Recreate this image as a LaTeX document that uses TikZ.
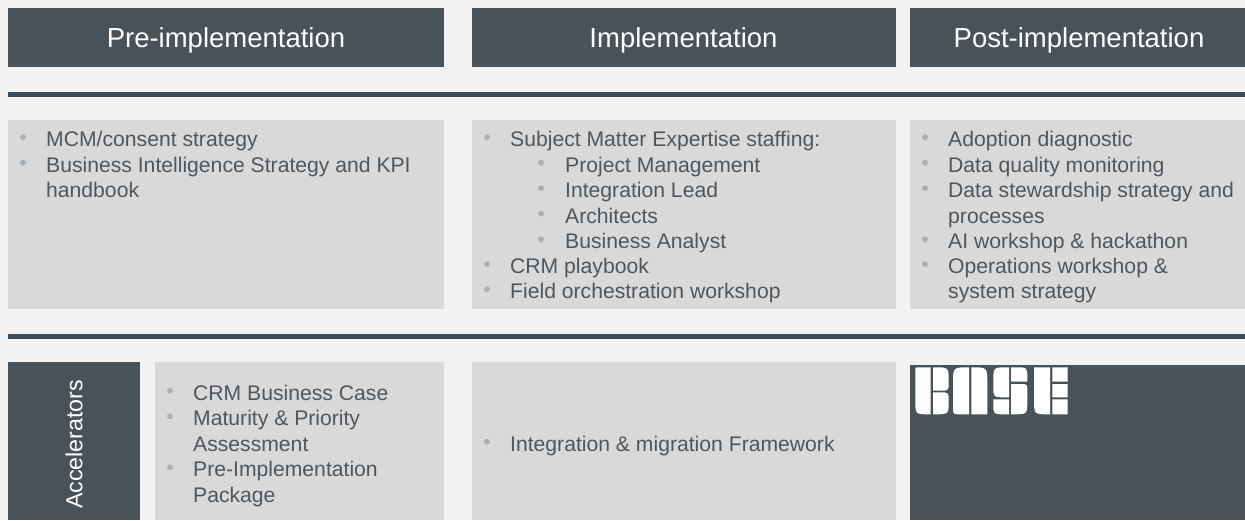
\documentclass[tikz,border=0pt]{standalone}
\usepackage{fontspec}
\setmainfont{Liberation Sans}
\definecolor{bgc}{HTML}{F2F2F2}
\definecolor{dark}{HTML}{4A5259}
\definecolor{panelc}{HTML}{D9D9D9}
\definecolor{rulec}{HTML}{3D4C57}
\definecolor{txt}{HTML}{4F575E}
\definecolor{bul}{HTML}{A5B0B8}
\tikzset{
 x=1pt,y=-1pt,
 box/.style={inner sep=0pt,outer sep=0pt,anchor=north west},
 head/.style={box,fill=dark},
 headtext/.style={text=white,inner sep=0pt,anchor=base,font=\fontsize{27.5}{32}\selectfont},
 panel/.style={box,fill=panelc},
 rulebar/.style={fill=rulec},
 itm/.style={anchor=base west,inner sep=0pt,yshift=-0.5pt,text=txt,font=\fontsize{21.15}{25}\selectfont},
}
\newcommand{\itm}[4]{\node[itm] (#1) at (#2,#3) {#4};}
\newcommand{\blt}[3]{\fill[bul] (#2,#3-8.8) circle (2.9);}
% x1 y1 x2 y2 rTL rTR rBR rBL
\newcommand{\piece}[8]{\fill[white] (#1+#5,#2) -- (#3-#6,#2) .. controls (#3,#2) .. (#3,#2+#6) -- (#3,#4-#7) .. controls (#3,#4) .. (#3-#7,#4) -- (#1+#8,#4) .. controls (#1,#4) .. (#1,#4-#8) -- (#1,#2+#5) .. controls (#1,#2) .. (#1+#5,#2) -- cycle;}
\begin{document}
\begin{tikzpicture}
\useasboundingbox (0,0) rectangle (1245,520);
\fill[bgc] (0,0) rectangle (1245,520);
% headers
\node[head,minimum width=436pt,minimum height=59pt] (h1) at (8,8) {};
\node[head,minimum width=424pt,minimum height=59pt] (h2) at (472,8) {};
\node[head,minimum width=335pt,minimum height=59pt] (h3) at (910,8) {};
\node[headtext] (h1t) at (226,47) {Pre-implementation};
\node[headtext] (h2t) at (683.5,47) {Implementation};
\node[headtext] (h3t) at (1079,47) {Post-implementation};
% rules
\fill[rulebar] (8,92.3) rectangle (1245,96.6);
\fill[rulebar] (8,333.8) rectangle (1245,338.6);
% panels
\node[panel,minimum width=436pt,minimum height=189pt] (p1) at (8,120) {};
\node[panel,minimum width=424pt,minimum height=189pt] (p2) at (472,120) {};
\node[panel,minimum width=335pt,minimum height=189pt] (p3) at (910,120) {};
\node[box,fill=dark,minimum width=132pt,minimum height=158pt] (acc) at (8,362) {};
\node[text=white,font=\fontsize{23.2}{28}\selectfont,rotate=90,inner sep=0pt] (acclabel) at (74,444.5) {Accelerators};
\node[panel,minimum width=289.5pt,minimum height=158pt] (p4) at (154.5,362) {};
\node[panel,minimum width=424pt,minimum height=158pt] (p5) at (472,362) {};
\node[box,fill=dark,minimum width=335pt,minimum height=155.5pt] (logo) at (910,364.5) {};
% column 1
\blt{a1}{23}{146}\itm{a1t}{46}{146}{MCM/consent strategy}
\blt{a2}{23}{171.5}\itm{a2t}{46}{171.5}{Business Intelligence Strategy and KPI}
\itm{a3t}{46}{197}{handbook}
% column 2
\blt{b1}{487}{146}\itm{b1t}{510}{146}{Subject Matter Expertise staffing:}
\blt{b2}{541}{171.5}\itm{b2t}{565}{171.5}{Project Management}
\blt{b3}{541}{197}\itm{b3t}{565}{197}{Integration Lead}
\blt{b4}{541}{222.5}\itm{b4t}{565}{222.5}{Architects}
\blt{b5}{541}{248}\itm{b5t}{565}{248}{Business Analyst}
\blt{b6}{487}{273}\itm{b6t}{510}{273}{CRM playbook}
\blt{b7}{487}{298}\itm{b7t}{510}{298}{Field orchestration workshop}
% column 3
\blt{c1}{925}{146}\itm{c1t}{948}{146}{Adoption diagnostic}
\blt{c2}{925}{171.5}\itm{c2t}{948}{171.5}{Data quality monitoring}
\blt{c3}{925}{197}\itm{c3t}{948}{197}{Data stewardship strategy and}
\itm{c4t}{948}{222.5}{processes}
\blt{c5}{925}{248}\itm{c5t}{948}{248}{AI workshop \& hackathon}
\blt{c6}{925}{273}\itm{c6t}{948}{273}{Operations workshop \&}
\itm{c7t}{948}{298}{system strategy}
% accelerators
\blt{d1}{170}{399.5}\itm{d1t}{193}{399.5}{CRM Business Case}
\blt{d2}{170}{425}\itm{d2t}{193}{425}{Maturity \& Priority}
\itm{d3t}{193}{450.5}{Assessment}
\blt{d4}{170}{476}\itm{d4t}{193}{476}{Pre-Implementation}
\itm{d5t}{193}{501.5}{Package}
\blt{e1}{487}{450.5}\itm{e1t}{510}{450.5}{Integration \& migration Framework}
% logo B
\piece{915.3}{367.3}{930.7}{414.3}{3}{0}{0}{14}
\piece{933}{367.3}{948.7}{390.7}{0}{14}{9}{0}
\piece{933}{392.3}{948.7}{414.3}{0}{9}{14}{0}
% logo A
\piece{953}{367.3}{969}{414.3}{16}{0}{0}{7}
\piece{971.3}{367.3}{987.3}{414.3}{0}{16}{0}{0}
% logo S
\piece{993.3}{367.3}{1009}{397.3}{14}{0}{0}{11}
\piece{1011}{367.3}{1027.3}{381.7}{0}{11}{0}{0}
\piece{993.3}{399.3}{1009}{414.3}{0}{0}{0}{11}
\piece{1011}{384}{1027.3}{414.3}{0}{7}{14}{0}
% logo E
\piece{1034}{367.3}{1050}{414.3}{0}{0}{0}{15}
\piece{1052.3}{367.3}{1067.7}{381.7}{0}{0}{0}{0}
\piece{1052.3}{384}{1067.7}{397.3}{0}{0}{0}{0}
\piece{1052.3}{399.3}{1067.7}{414.3}{0}{0}{0}{0}
\end{tikzpicture}
\end{document}
